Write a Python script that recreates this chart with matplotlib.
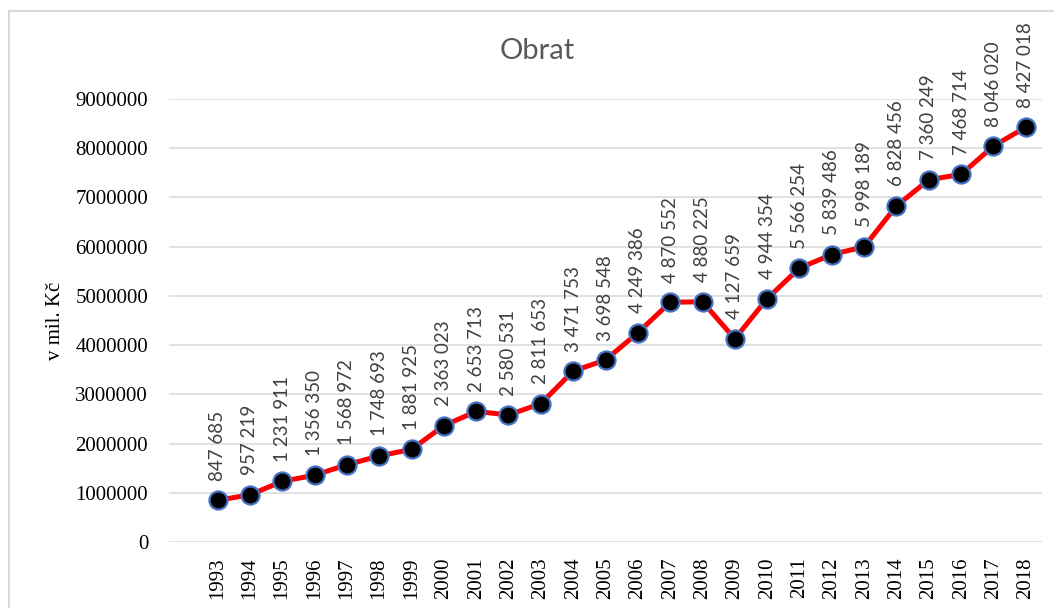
import matplotlib.pyplot as plt
from matplotlib.lines import Line2D

years = [str(y) for y in range(1993, 2019)]
obrat = [847685, 957219, 1231911, 1356350, 1568972, 1748693, 1881925,
         2363023, 2653713, 2580531, 2811653, 3471753, 3698548, 4249386,
         4870552, 4880225, 4127659, 4944354, 5566254, 5839486, 5998189,
         6828456, 7360249, 7468714, 8046020, 8427018]
y_ticks = [0, 1000000, 2000000, 3000000, 4000000, 5000000, 6000000,
           7000000, 8000000, 9000000]

SERIF = "Liberation Serif"
SANS = "Lato"

fig = plt.figure(figsize=(10.54, 6.08), dpi=100)
ax = fig.add_axes([169 / 1054, 1 - 542 / 608, (1042 - 169) / 1054, (542 - 99) / 608])

x = list(range(len(years)))
ax.plot(x, obrat, color="#ff0000", linewidth=3.6, marker="o", markersize=13,
        markerfacecolor="black", markeredgecolor="#4472c4", markeredgewidth=1.6,
        zorder=3)

for xi, v in zip(x, obrat):
    lab = f"{v:,}".replace(",", " ")
    ax.annotate(lab, (xi, v), xytext=(0, 14), textcoords="offset points",
                rotation=90, ha="center", va="bottom", fontsize=13.5,
                family=SANS, color="#404040", annotation_clip=False)

ax.set_xlim(-1.5, 25.5)
ax.set_ylim(0, 9000000)
ax.set_xticks(x)
ax.set_xticklabels(years, rotation=90, family=SERIF, fontsize=15)
ax.set_yticks(y_ticks)
ax.set_yticklabels([str(t) for t in y_ticks], family=SERIF, fontsize=15)
ax.tick_params(axis="both", length=0)
ax.tick_params(axis="y", pad=15)
ax.tick_params(axis="x", pad=11)
ax.grid(axis="y", color="#d9d9d9", linewidth=1.1)
ax.set_axisbelow(True)
for s in ax.spines.values():
    s.set_visible(False)

fig.text(537 / 1054, 1 - 51 / 608, "Obrat", ha="center", va="center",
         fontsize=21, family=SANS, color="#595959")
fig.text(55 / 1054, 1 - 321 / 608, "v mil. Kč", rotation=90, ha="center",
         va="center", fontsize=15, family=SERIF, color="black")

# rámeček grafu
fig.add_artist(Line2D([9 / 1054, 9 / 1054], [0, 1 - 11 / 608], color="#d9d9d9",
                      linewidth=1.5, transform=fig.transFigure))
fig.add_artist(Line2D([9 / 1054, 1], [1 - 11 / 608, 1 - 11 / 608], color="#d9d9d9",
                      linewidth=1.5, transform=fig.transFigure))

fig.savefig("out.png", dpi=100)
